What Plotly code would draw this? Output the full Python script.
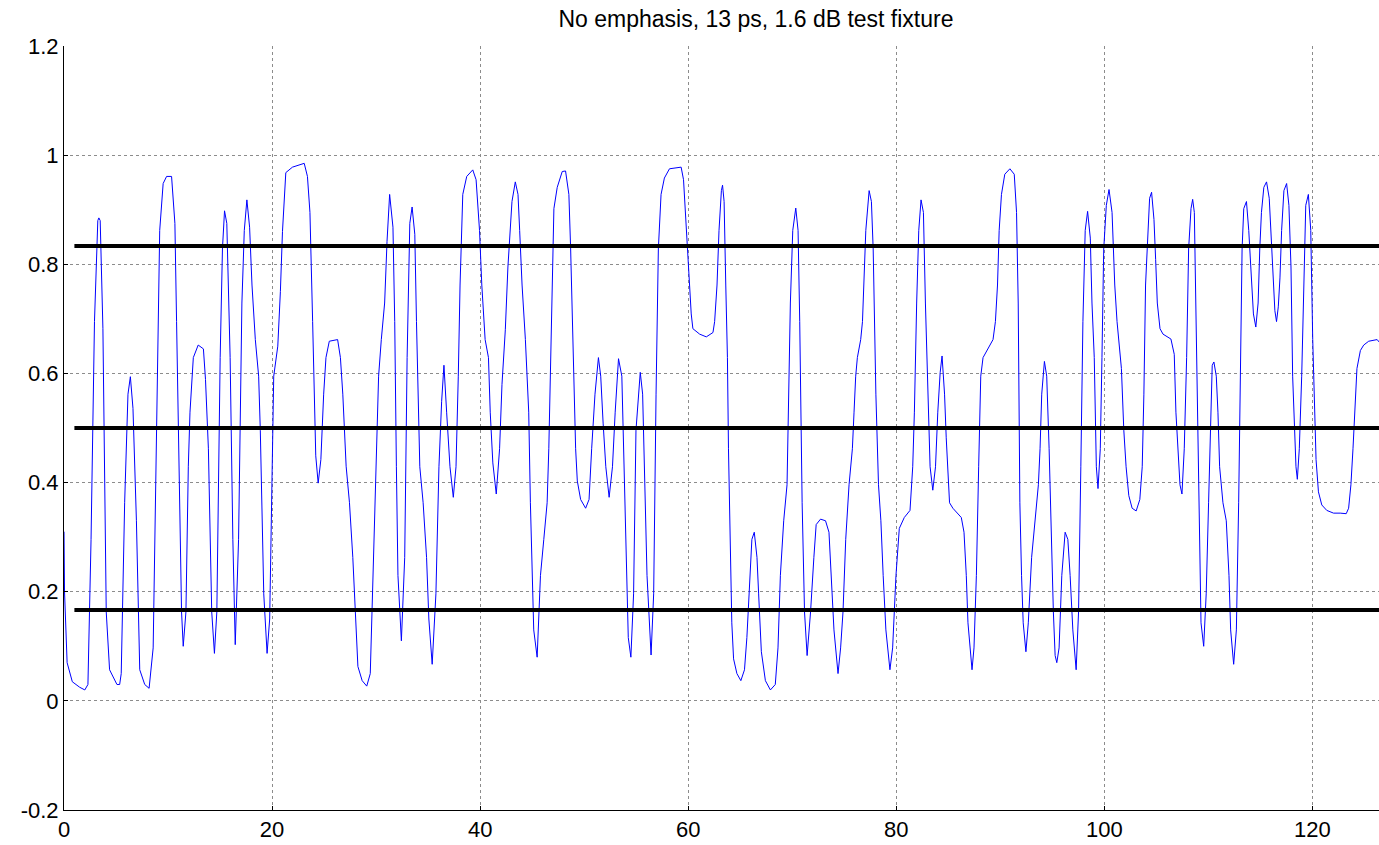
import plotly.graph_objects as go

wave_x = [0, 0.05, 0.3, 0.8, 1.5, 2.0, 2.3, 2.6, 2.93, 3.25, 3.35, 3.48, 3.74, 4.06, 4.38, 5.09, 5.35, 5.5,
          5.83, 6.15, 6.38, 6.63, 6.96, 7.28, 7.76, 8.18, 8.57, 8.89, 9.2, 9.53, 9.86, 10.34, 10.66, 10.82,
          11.08, 11.3, 11.46, 11.72, 11.95, 12.11, 12.43, 12.9, 13.4, 13.6, 13.88, 14.2, 14.46, 14.69, 15.01,
          15.23, 15.43, 15.65, 15.97, 16.23, 16.46, 16.78, 17.1, 17.33, 17.58, 17.84, 18.07, 18.39, 18.71,
          18.87, 19.2, 19.52, 19.77, 20.16, 20.55, 20.8, 21.0, 21.16, 21.32, 21.96, 23.09, 23.4, 23.64, 23.9,
          24.06, 24.2, 24.43, 24.69, 24.96, 25.18, 25.5, 26.3, 26.57, 26.8, 27.12, 27.44, 27.76, 28.02, 28.25,
          28.66, 29.1, 29.44, 29.69, 30.02, 30.24, 30.5, 30.82, 31.05, 31.3, 31.62, 31.79, 31.95, 32.1, 32.43,
          32.75, 32.98, 33.24, 33.46, 33.72, 33.88, 34.2, 34.52, 34.85, 35.07, 35.39, 35.75, 36.04, 36.3, 36.52,
          36.78, 37.1, 37.42, 37.68, 37.9, 38.07, 38.33, 38.71, 39.29, 39.61, 39.94, 40.16, 40.48, 40.8, 40.97,
          41.22, 41.55, 41.87, 42.1, 42.42, 42.67, 42.9, 43.06, 43.38, 43.64, 43.8, 44.03, 44.35, 44.67, 44.83,
          44.99, 45.15, 45.48, 45.8, 46.12, 46.44, 46.6, 46.83, 47.09, 47.41, 47.89, 48.21, 48.53, 48.7, 48.86,
          49.02, 49.18, 49.34, 49.66, 50.14, 50.47, 50.72, 51.04, 51.37, 51.59, 51.82, 52.08, 52.4, 52.72,
          52.98, 53.3, 53.62, 53.85, 54.01, 54.24, 54.49, 54.75, 54.98, 55.39, 55.62, 55.85, 56.04, 56.43,
          56.68, 56.91, 57.13, 57.39, 57.71, 58.2, 59.32, 59.55, 59.74, 59.97, 60.13, 60.29, 60.45, 61.1, 61.74,
          62.38, 62.54, 62.77, 62.96, 63.19, 63.3, 63.45, 63.61, 63.77, 63.87, 64.03, 64.19, 64.36, 64.68,
          65.06, 65.41, 65.64, 65.96, 66.12, 66.35, 66.61, 66.77, 67.03, 67.42, 67.9, 68.37, 68.63, 68.86,
          69.18, 69.5, 69.66, 69.82, 70.05, 70.34, 70.56, 70.72, 70.95, 71.18, 71.43, 71.76, 72.08, 72.3,
          72.72, 73.2, 73.53, 73.75, 74.01, 74.4, 74.65, 74.88, 75.14, 75.46, 75.78, 75.94, 76.1, 76.26, 76.58,
          76.75, 76.91, 77.07, 77.39, 77.61, 77.78, 78.04, 78.29, 78.52, 78.74, 79.0, 79.39, 79.65, 79.97,
          80.29, 80.77, 81.32, 81.58, 81.74, 81.96, 82.16, 82.38, 82.61, 82.8, 83.03, 83.25, 83.51, 83.77,
          83.99, 84.22, 84.4, 84.64, 84.8, 85.12, 85.44, 86.25, 86.51, 86.73, 86.89, 87.12, 87.28, 87.47, 87.7,
          87.92, 88.12, 88.34, 88.82, 89.3, 89.53, 89.73, 89.89, 90.11, 90.43, 90.92, 91.34, 91.56, 91.72,
          91.88, 92.04, 92.2, 92.46, 92.69, 93.01, 93.33, 93.66, 93.82, 93.98, 94.24, 94.46, 94.69, 94.88,
          95.1, 95.27, 95.43, 95.65, 95.91, 96.23, 96.49, 96.71, 96.97, 97.29, 97.52, 97.74, 97.94, 98.16,
          98.39, 98.65, 98.81, 99.03, 99.23, 99.39, 99.61, 99.77, 99.94, 100.19, 100.45, 100.74, 101.0, 101.22,
          101.38, 101.64, 101.87, 102.09, 102.35, 102.67, 103.06, 103.41, 103.64, 103.8, 103.96, 104.19,
          104.35, 104.54, 104.77, 104.93, 105.09, 105.35, 105.64, 106.4, 106.72, 106.88, 107.04, 107.27,
          107.46, 107.68, 107.91, 108.1, 108.33, 108.49, 108.65, 108.81, 108.97, 109.13, 109.29, 109.55,
          109.79, 110.02, 110.21, 110.37, 110.53, 110.76, 110.92, 111.08, 111.4, 111.72, 111.98, 112.14,
          112.43, 112.69, 112.91, 113.07, 113.24, 113.4, 113.66, 113.88, 114.04, 114.17, 114.33, 114.56,
          114.78, 114.94, 115.1, 115.33, 115.59, 115.85, 116.07, 116.23, 116.39, 116.55, 116.72, 116.88,
          117.04, 117.26, 117.52, 117.74, 117.94, 118.1, 118.26, 118.42, 118.55, 118.74, 118.97, 119.13,
          119.36, 119.61, 119.84, 120.03, 120.19, 120.35, 120.58, 120.9, 121.38, 122.03, 122.67, 123.25,
          123.48, 123.7, 123.9, 124.06, 124.28, 124.61, 124.93, 125.41, 126.22, 126.44]

wave_y = [0.31, 0.2, 0.07, 0.035, 0.025, 0.02, 0.03, 0.296, 0.695, 0.88, 0.885, 0.88, 0.682, 0.163, 0.057, 0.03, 0.03, 0.05,
          0.363, 0.562, 0.594, 0.536, 0.33, 0.057, 0.03, 0.023, 0.097, 0.529, 0.862, 0.948, 0.961, 0.961, 0.875, 0.695,
          0.363, 0.163, 0.1, 0.163, 0.43, 0.529, 0.629, 0.652, 0.645, 0.589, 0.462, 0.163, 0.087, 0.163, 0.629,
          0.828, 0.898, 0.875, 0.629, 0.296, 0.103, 0.296, 0.729, 0.862, 0.918, 0.868, 0.762, 0.662, 0.595,
          0.496, 0.196, 0.087, 0.15, 0.595, 0.65, 0.75, 0.86, 0.928, 0.968, 0.978, 0.985, 0.961, 0.895, 0.695,
          0.529, 0.449, 0.399, 0.442, 0.562, 0.629, 0.659, 0.662, 0.629, 0.562, 0.43, 0.363, 0.263, 0.15, 0.063,
          0.037, 0.027, 0.05, 0.23, 0.429, 0.595, 0.662, 0.729, 0.842, 0.928, 0.868, 0.695, 0.429, 0.23, 0.11,
          0.263, 0.629, 0.875, 0.905, 0.855, 0.695, 0.429, 0.363, 0.263, 0.15, 0.067, 0.196, 0.429, 0.549, 0.615,
          0.529, 0.429, 0.373, 0.429, 0.595, 0.762, 0.928, 0.961, 0.973, 0.955, 0.862, 0.762, 0.662, 0.629, 0.529,
          0.436, 0.379, 0.462, 0.58, 0.68, 0.795, 0.875, 0.915, 0.951, 0.928, 0.862, 0.762, 0.662, 0.529, 0.363,
          0.263, 0.13, 0.08, 0.23, 0.296, 0.363, 0.462, 0.695, 0.902, 0.941, 0.97, 0.971, 0.928, 0.828, 0.695,
          0.562, 0.462, 0.403, 0.369, 0.353, 0.369, 0.462, 0.562, 0.629, 0.595, 0.509, 0.429, 0.373, 0.429,
          0.529, 0.627, 0.595, 0.429, 0.296, 0.116, 0.08, 0.196, 0.496, 0.602, 0.562, 0.363, 0.23, 0.084,
          0.196, 0.562, 0.828, 0.928, 0.958, 0.975, 0.978, 0.955, 0.895, 0.828, 0.775, 0.709, 0.682, 0.672, 0.667,
          0.675, 0.695, 0.762, 0.862, 0.935, 0.945, 0.915, 0.762, 0.629, 0.462, 0.296, 0.143, 0.077, 0.05,
          0.037, 0.057, 0.116, 0.23, 0.296, 0.309, 0.263, 0.196, 0.09, 0.037, 0.02, 0.03, 0.097, 0.23,
          0.33, 0.396, 0.562, 0.729, 0.862, 0.903, 0.862, 0.695, 0.363, 0.163, 0.083, 0.163, 0.263, 0.323,
          0.333, 0.33, 0.309, 0.23, 0.13, 0.05, 0.097, 0.163, 0.296, 0.396, 0.462, 0.529, 0.595, 0.629, 0.662,
          0.695, 0.775, 0.862, 0.935, 0.915, 0.828, 0.562, 0.396, 0.33, 0.23, 0.13, 0.057, 0.097, 0.23,
          0.316, 0.336, 0.349, 0.429, 0.529, 0.729, 0.862, 0.918, 0.895, 0.729, 0.562, 0.429, 0.386, 0.429,
          0.529, 0.602, 0.632, 0.562, 0.482, 0.363, 0.353, 0.336, 0.309, 0.23, 0.143, 0.09, 0.057, 0.097, 0.23,
          0.429, 0.595, 0.629, 0.645, 0.662, 0.695, 0.762, 0.862, 0.928, 0.965, 0.975, 0.965, 0.895, 0.729,
          0.363, 0.23, 0.143, 0.09, 0.143, 0.263, 0.33, 0.396, 0.462, 0.562, 0.622, 0.595, 0.462, 0.296,
          0.163, 0.083, 0.07, 0.097, 0.23, 0.309, 0.296, 0.23, 0.13, 0.057, 0.163, 0.429, 0.695, 0.862,
          0.897, 0.848, 0.729, 0.629, 0.429, 0.389, 0.462, 0.629, 0.828, 0.908, 0.937, 0.895, 0.762, 0.695,
          0.662, 0.609, 0.496, 0.429, 0.376, 0.353, 0.348, 0.369, 0.429, 0.562, 0.762, 0.862,
          0.921, 0.932, 0.882, 0.809, 0.729, 0.682, 0.672, 0.663, 0.635, 0.529, 0.462, 0.396,
          0.379, 0.462, 0.629, 0.828, 0.902, 0.919, 0.895, 0.695, 0.496, 0.296, 0.143, 0.1,
          0.196, 0.363, 0.529, 0.615, 0.621, 0.595, 0.529, 0.429, 0.363, 0.33, 0.23, 0.13,
          0.067, 0.13, 0.363, 0.562, 0.828, 0.902, 0.915, 0.862, 0.809, 0.762, 0.709, 0.685,
          0.729, 0.828, 0.895, 0.941, 0.951, 0.921, 0.828, 0.762, 0.715, 0.695, 0.722, 0.775,
          0.862, 0.935, 0.948, 0.908, 0.795, 0.595, 0.496, 0.429, 0.406, 0.462, 0.595, 0.729,
          0.908, 0.928, 0.862, 0.662, 0.529, 0.442, 0.383, 0.359, 0.349, 0.344, 0.344, 0.343,
          0.353, 0.396, 0.462, 0.529, 0.609, 0.642, 0.652, 0.659, 0.662, 0.657]

threshold_levels = [1 / 6, 0.5, 5 / 6]
threshold_span = [1, 127]

x_ticks = [0, 20, 40, 60, 80, 100, 120]
y_ticks = [-0.2, 0, 0.2, 0.4, 0.6, 0.8, 1, 1.2]
y_tick_labels = ["-0.2", "0", "0.2", "0.4", "0.6", "0.8", "1", "1.2"]

title_text = "No emphasis, 13 ps, 1.6 dB test fixture"

fig = go.Figure()

fig.add_trace(go.Scatter(x=wave_x, y=wave_y, mode="lines",
                         line=dict(color="#0000ff", width=1), showlegend=False, hoverinfo="skip"))

for lvl in threshold_levels:
    fig.add_trace(go.Scatter(x=threshold_span, y=[lvl, lvl], mode="lines",
                             line=dict(color="black", width=4), showlegend=False, hoverinfo="skip"))

font_family = "Liberation Sans, Arial, sans-serif"

fig.update_layout(
    width=1379, height=845,
    margin=dict(l=64, r=0, t=46, b=35, autoexpand=False),
    paper_bgcolor="white", plot_bgcolor="white",
    title=dict(text=title_text, x=756 / 1379, xref="container", xanchor="center",
               y=1 - 19 / 845, yref="container", yanchor="middle",
               font=dict(family=font_family, size=23, color="black")),
    font=dict(family=font_family, color="black"),
)

fig.update_xaxes(range=[0, 126.4], tickvals=x_ticks, ticktext=[str(v) for v in x_ticks],
                 showgrid=True, gridcolor="#8c8c8c", griddash="dot", gridwidth=1,
                 showline=True, linecolor="black", linewidth=1,
                 ticks="inside", ticklen=4, tickcolor="black",
                 tickfont=dict(size=22, family=font_family, color="black"),
                 automargin=False, zeroline=False)
fig.update_yaxes(range=[-0.2, 1.2], tickvals=y_ticks, ticktext=y_tick_labels,
                 showgrid=True, gridcolor="#8c8c8c", griddash="dot", gridwidth=1,
                 showline=True, linecolor="black", linewidth=1,
                 ticks="inside", ticklen=4, tickcolor="black",
                 tickfont=dict(size=22, family=font_family, color="black"),
                 automargin=False, zeroline=False)

fig.write_html("out.html",
               config={"displayModeBar": False},
               post_script="document.body.style.margin='0px';document.body.style.overflow='hidden';")
